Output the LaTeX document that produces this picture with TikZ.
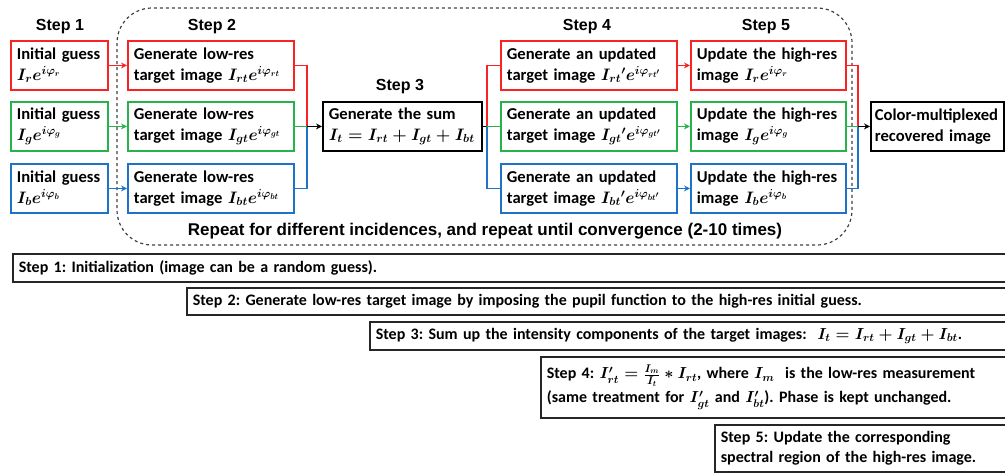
\RequirePackage{fix-cm}
\documentclass[tikz,border=0pt]{standalone}
\usepackage{amsmath,amssymb}
\usepackage{fontspec}
\setmainfont{Carlito}
\newfontfamily\headfont{Liberation Sans}
\usetikzlibrary{arrows.meta}
\definecolor{stepred}{RGB}{250,35,35}
\definecolor{stepgreen}{RGB}{40,178,75}
\definecolor{stepblue}{RGB}{30,115,200}
\frenchspacing

\begin{document}
\begin{tikzpicture}[x=1pt,y=-1pt,>={Stealth[length=6pt,width=6pt]},
  box/.style={draw,line width=1.8pt,anchor=north west,inner xsep=6pt,inner ysep=0pt,
    align=left,minimum height=49pt,font=\fontsize{16.6}{21}\selectfont\bfseries\boldmath},
  note/.style={draw=black!85,line width=1.6pt,anchor=north west,inner xsep=6pt,inner ysep=0pt,
    align=left,text width=990pt,font=\fontsize{16}{20}\selectfont\bfseries\boldmath},
  head/.style={font=\headfont\fontsize{16}{19}\selectfont\bfseries},
  link/.style={line width=1.8pt}]
  \useasboundingbox (0,0) rectangle (1005,472);

  % repeated loop
  \draw[dashed,line width=1.2pt,black!75,rounded corners=35pt] (117,8) rectangle (852,245);
  \node[head,font=\headfont\fontsize{17}{19}\selectfont\bfseries] (rep) at (485,231) {Repeat for different incidences, and repeat until convergence (2-10 times)};

  % step headers
  \node[head] (h1) at (60,27) {Step 1};
  \node[head] (h2) at (212,27) {Step 2};
  \node[head] (h3) at (400,87) {Step 3};
  \node[head] (h4) at (587,27) {Step 4};
  \node[head] (h5) at (766,27) {Step 5};

  % step 1
  \node[box,draw=stepred,text width=85pt] (r1) at (10,40) {Initial guess\\$I_r e^{i\varphi_r}$};
  \node[box,draw=stepgreen,text width=85pt] (g1) at (10,101) {Initial guess\\$I_g e^{i\varphi_g}$};
  \node[box,draw=stepblue,text width=85pt] (b1) at (10,163) {Initial guess\\$I_b e^{i\varphi_b}$};

  % step 2
  \node[box,draw=stepred,text width=154pt] (r2) at (127,40) {Generate low-res\\target image $I_{rt}e^{i\varphi_{rt}}$};
  \node[box,draw=stepgreen,text width=154pt] (g2) at (127,101) {Generate low-res\\target image $I_{gt}e^{i\varphi_{gt}}$};
  \node[box,draw=stepblue,text width=154pt] (b2) at (127,163) {Generate low-res\\target image $I_{bt}e^{i\varphi_{bt}}$};

  % step 3
  \node[box,text width=147pt] (s3) at (322,101) {Generate the sum\\$I_t=I_{rt}+I_{gt}+I_{bt}$};

  % step 4
  \node[box,draw=stepred,text width=164pt] (r4) at (500,40) {Generate an updated\\target image $I_{rt}{}'e^{i\varphi_{rt'}}$};
  \node[box,draw=stepgreen,text width=164pt] (g4) at (500,101) {Generate an updated\\target image $I_{gt}{}'e^{i\varphi_{gt'}}$};
  \node[box,draw=stepblue,text width=164pt] (b4) at (500,163) {Generate an updated\\target image $I_{bt}{}'e^{i\varphi_{bt'}}$};

  % step 5
  \node[box,draw=stepred,text width=143pt] (r5) at (690,40) {Update the high-res\\image $I_r e^{i\varphi_r}$};
  \node[box,draw=stepgreen,text width=143pt] (g5) at (690,101) {Update the high-res\\image $I_g e^{i\varphi_g}$};
  \node[box,draw=stepblue,text width=143pt] (b5) at (690,163) {Update the high-res\\image $I_b e^{i\varphi_b}$};

  % result
  \node[box,inner xsep=4pt,text width=125pt] (out) at (870,101) {Color-multiplexed\\recovered image};

  % junctions
  \path (s3.west) ++(-15,0) coordinate (jl);
  \path (s3.east) ++(4,0) coordinate (jm);
  \path (out.west) ++(-12,0) coordinate (jr);

  % step 1 -> step 2
  \draw[link,->,stepred] (r1) -- (r2);
  \draw[link,->,stepgreen] (g1) -- (g2);
  \draw[link,->,stepblue] (b1) -- (b2);

  % step 2 -> step 3
  \draw[link,stepred] (r2.east) -| (jl);
  \draw[link,stepblue] (b2.east) -| (jl);
  \draw[link,stepgreen] (g2.east) -- (jl);
  \draw[link,->] (jl) -- (s3.west);

  % step 3 -> step 4
  \draw[link] (s3.east) -- (jm);
  \draw[link,stepred] (jm) |- (r4.west);
  \draw[link,stepblue] (jm) |- (b4.west);
  \draw[link,stepgreen] (jm) -- (g4.west);

  % step 4 -> step 5
  \draw[link,->,stepred] (r4) -- (r5);
  \draw[link,->,stepgreen] (g4) -- (g5);
  \draw[link,->,stepblue] (b4) -- (b5);

  % step 5 -> result
  \draw[link,stepred] (r5.east) -| (jr);
  \draw[link,stepblue] (b5.east) -| (jr);
  \draw[link,stepgreen] (g5.east) -- (jr);
  \draw[link,->] (jr) -- (out.west);

  % notes
  \node[note,minimum height=28pt] (n1) at (12,253) {Step 1: Initialization (image can be a random guess).};
  \node[note,minimum height=27pt] (n2) at (186,287) {Step 2: Generate low-res target image by imposing the pupil function to the high-res initial guess.};
  \node[note,minimum height=28pt] (n3) at (369,321) {Step 3: Sum up the intensity components of the target images: \ $I_t=I_{rt}+I_{gt}+I_{bt}$.};
  \node[note,minimum height=61pt] (n4) at (540,356) {Step 4: $I'_{rt}=\frac{I_m}{I_t}*I_{rt}$, where $I_m$~ is the low-res measurement\\[4pt](same treatment for $I'_{gt}$ and $I'_{bt}$). Phase is kept unchanged.};
  \node[note,minimum height=47pt] (n5) at (714,424) {Step 5: Update the corresponding\\spectral region of the high-res image.};
\end{tikzpicture}
\end{document}
